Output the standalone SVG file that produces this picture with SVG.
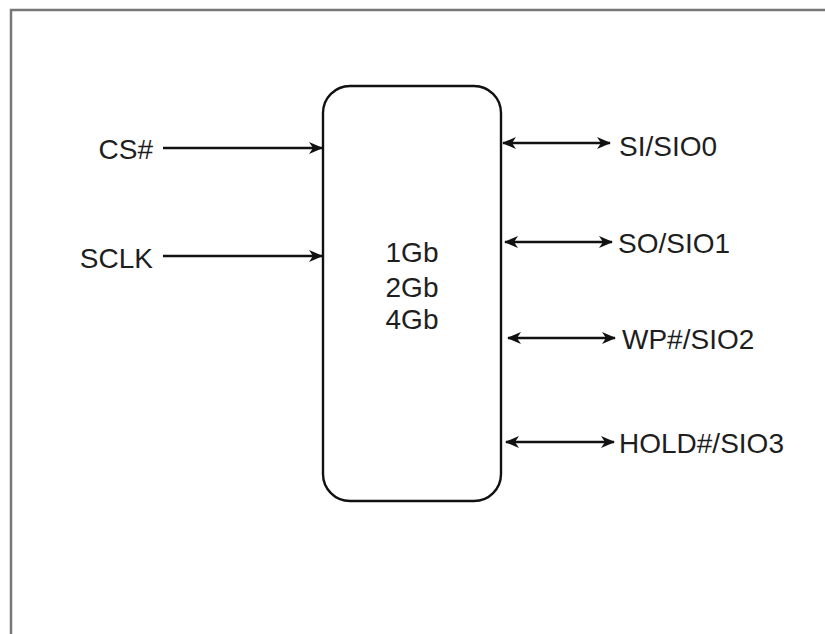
<svg xmlns="http://www.w3.org/2000/svg" width="825" height="634" viewBox="0 0 825 634">
<style>
.lbl{font-family:"Liberation Sans",Arial,sans-serif;font-size:28px;fill:#1e1e1e}
.wire{stroke:#111;stroke-width:2.6;fill:none}
</style>
<defs>
<marker id="ah" viewBox="0 0 14 12" refX="13" refY="6" markerWidth="14" markerHeight="12" markerUnits="userSpaceOnUse" orient="auto-start-reverse">
<path d="M0,0 L14,6 L0,12 L4,6 z" fill="#111"/>
</marker>
</defs>
<rect x="0" y="0" width="825" height="634" fill="#fff"/>
<path id="frame" d="M11,634 V10 H825" fill="none" stroke="#777" stroke-width="2.5"/>
<g id="chip">
<rect x="323" y="86" width="178" height="415" rx="27" ry="27" fill="#fff" stroke="#111" stroke-width="2.4"/>
<text class="lbl" x="412" y="262" text-anchor="middle">1Gb</text>
<text class="lbl" x="412" y="297" text-anchor="middle">2Gb</text>
<text class="lbl" x="412" y="329" text-anchor="middle">4Gb</text>
</g>
<g id="cs"><text class="lbl" x="153" y="159" text-anchor="end">CS#</text></g>
<g id="sclk"><text class="lbl" x="153" y="268" text-anchor="end">SCLK</text></g>
<g id="sio0"><text class="lbl" x="619" y="156">SI/SIO0</text></g>
<g id="sio1"><text class="lbl" x="618" y="253">SO/SIO1</text></g>
<g id="sio2"><text class="lbl" x="622" y="349">WP#/SIO2</text></g>
<g id="sio3"><text class="lbl" x="619" y="453">HOLD#/SIO3</text></g>
<g id="connectors">
<line class="wire" x1="163" y1="148" x2="322" y2="148" marker-end="url(#ah)"/>
<line class="wire" x1="163" y1="256" x2="322" y2="256" marker-end="url(#ah)"/>
<line class="wire" x1="503" y1="143" x2="610" y2="143" marker-start="url(#ah)" marker-end="url(#ah)"/>
<line class="wire" x1="505" y1="242" x2="612" y2="242" marker-start="url(#ah)" marker-end="url(#ah)"/>
<line class="wire" x1="508" y1="338" x2="615" y2="338" marker-start="url(#ah)" marker-end="url(#ah)"/>
<line class="wire" x1="506" y1="442" x2="614" y2="442" marker-start="url(#ah)" marker-end="url(#ah)"/>
</g>
</svg>
